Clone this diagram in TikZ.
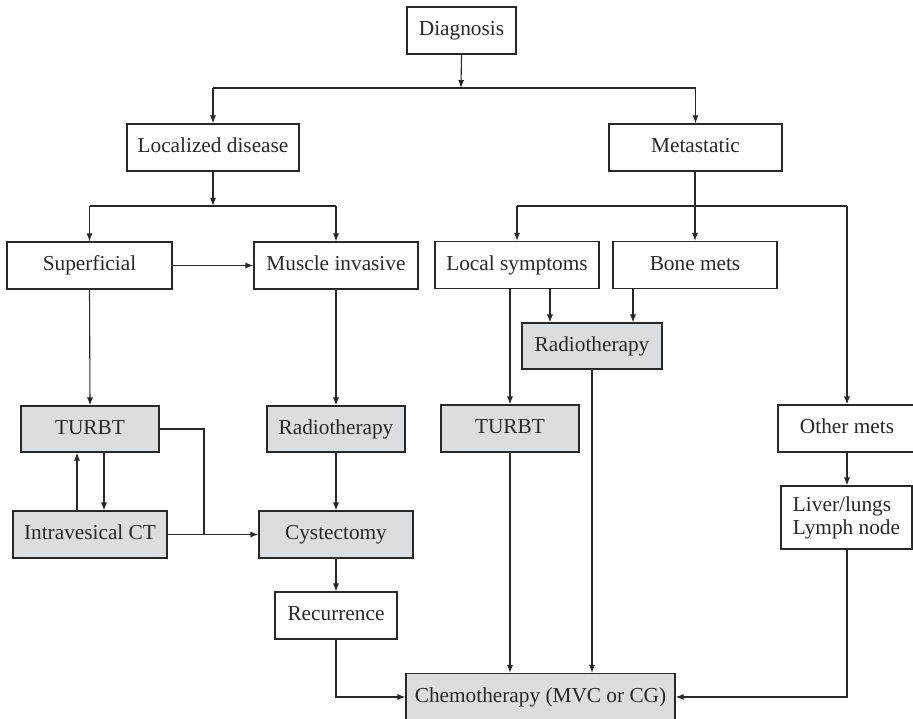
\documentclass[tikz,border=0pt]{standalone}
\usepackage{fontspec}
\setmainfont{Liberation Serif}
\usetikzlibrary{arrows.meta}
\definecolor{boxgray}{RGB}{220,221,223}
\definecolor{inkc}{RGB}{40,40,40}
\tikzset{
  box/.style={draw=inkc, line width=1.1pt, fill=white, inner sep=0pt,
    minimum height=47pt, text height=15pt, text depth=4.5pt,
    font=\fontsize{21.3}{23}\selectfont, text=inkc},
  tbox/.style={box, fill=boxgray},
  link/.style={draw=inkc, line width=1.1pt},
  arr/.style={link, -{Latex[length=8pt,width=6pt]}},
}
\begin{document}
\begin{tikzpicture}[x=1pt, y=-1pt]
\useasboundingbox[fill=white] (0,0) rectangle (913,719);

% boxes
\node[box, minimum width=109pt] (diag) at (461.5,30.5) {Diagnosis};
\node[box, minimum width=172pt] (loc) at (213,147.5) {Localized disease};
\node[box, minimum width=173pt] (meta) at (695.5,147.5) {Metastatic};
\node[box, minimum width=165pt] (sup) at (89.5,265.5) {Superficial};
\node[box, minimum width=164pt] (mus) at (336,265.5) {Muscle invasive};
\node[box, minimum width=164pt] (lsym) at (517,265) {Local symptoms};
\node[box, minimum width=164pt] (bone) at (695,265) {Bone mets};
\node[tbox, minimum width=140pt, minimum height=46pt] (rad2) at (592,346) {Radiotherapy};
\node[tbox, minimum width=138pt, minimum height=46pt] (turbtA) at (90,429) {TURBT};
\node[tbox, minimum width=138pt, minimum height=46pt] (rad1) at (336,429) {Radiotherapy};
\node[tbox, minimum width=138pt] (turbtB) at (510,428.5) {TURBT};
\node[box, minimum width=138pt] (other) at (847,428.5) {Other mets};
\node[tbox, minimum width=154pt] (ict) at (90,534.5) {Intravesical CT};
\node[tbox, minimum width=154pt] (cyst) at (336,534.5) {Cystectomy};
\node[box, minimum width=131pt, minimum height=63pt, text height=, text depth=,
      align=left, font=\fontsize{21.3}{23}\selectfont] (liver) at (846.5,517.5)
      {Liver/lungs\\Lymph node};
\node[box, minimum width=122pt] (rec) at (336,615.5) {Recurrence};
\node[tbox, minimum width=269pt] (chemo) at (540.5,697) {Chemotherapy (MVC or CG)};

% junction points
\coordinate (j0) at (461,88);
\coordinate (j1) at (213,206);
\coordinate (j2) at (695,206);

% diagnosis split
\draw[arr] (diag.south) -- (j0);
\draw[link] (loc.north |- j0) -- (meta.north |- j0);
\draw[arr] (loc.north |- j0) -- (loc.north);
\draw[arr] (meta.north |- j0) -- (meta.north);

% localized disease split
\draw[arr] (loc.south) -- (j1);
\draw[link] (sup.north |- j1) -- (mus.north |- j1);
\draw[arr] (sup.north |- j1) -- (sup.north);
\draw[arr] (mus.north |- j1) -- (mus.north);

% metastatic split
\draw[arr] (meta.south -| bone.north) -- (bone.north);
\draw[link] (lsym.north |- j2) -- (other.north |- j2);
\draw[arr] (lsym.north |- j2) -- (lsym.north);
\draw[arr] (other.north |- j2) -- (other.north);

% localized branch
\draw[arr] (sup.east) -- (mus.west |- sup.east);
\draw[arr] (sup.south) -- (turbtA.north);
\draw[arr] (mus.south) -- (rad1.north);
\draw[arr] (turbtA.south -| 104,0) -- (ict.north -| 104,0);
\draw[arr] (ict.north -| 77,0) -- (turbtA.south -| 77,0);
\coordinate (tj) at (204,534.5);
\draw[link] (turbtA.east) -| (tj);
\draw[arr] (ict.east) -- (cyst.west);
\draw[arr] (rad1.south) -- (cyst.north);
\draw[arr] (cyst.south) -- (rec.north);
\draw[arr] (rec.south) |- (chemo.west);

% metastatic branch
\draw[arr] (lsym.south -| turbtB.north) -- (turbtB.north);
\draw[arr] (lsym.south -| 550,0) -- (rad2.north -| 550,0);
\draw[arr] (bone.south -| 633,0) -- (rad2.north -| 633,0);
\draw[arr] (turbtB.south) -- (chemo.north -| turbtB.south);
\draw[arr] (rad2.south) -- (chemo.north -| rad2.south);
\draw[arr] (other.south) -- (liver.north -| other.south);
\draw[arr] (liver.south -| other.south) |- (chemo.east);
\end{tikzpicture}
\end{document}
